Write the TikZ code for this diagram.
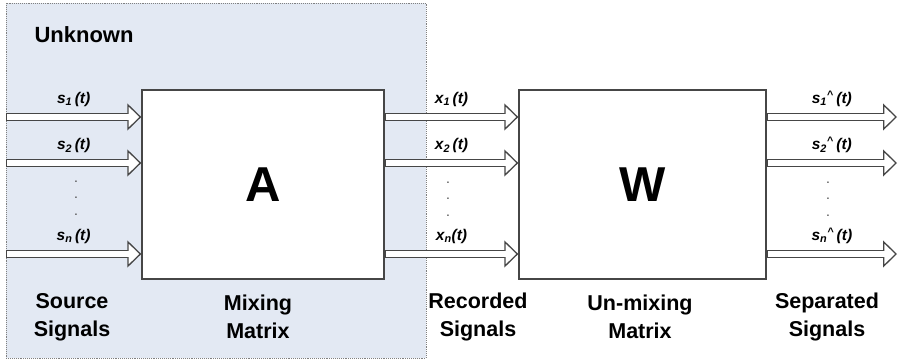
\documentclass[tikz,border=0pt]{standalone}
\usepackage{fontspec}
\setmainfont{Liberation Sans}
\usetikzlibrary{arrows.meta}
\definecolor{unknownbg}{RGB}{227,233,243}
\definecolor{edgegray}{RGB}{70,70,70}

\begin{document}
\begin{tikzpicture}[x=1pt,y=-1pt,
    matbox/.style={draw=edgegray,line width=1.4pt,fill=white,minimum width=242pt,minimum height=189pt,
      font=\fontsize{49}{49}\selectfont\bfseries},
    sigarrow/.style={draw=edgegray,line width=8pt,
      -{Triangle[length=14pt,width=27pt,line width=1.3pt,fill=white]},
      postaction={draw=white,line width=5.4pt,arrows=-,shorten <=1.3pt,shorten >=12.5pt}},
    siglabel/.style={midway,above=3pt,font=\fontsize{15.5}{17}\selectfont\bfseries\itshape},
    sigdots/.style={align=center,inner sep=0pt,text=black!70,font=\fontsize{14}{16.5}\selectfont},
    caption/.style={align=center,font=\fontsize{21.5}{28}\selectfont\bfseries}]
  \useasboundingbox (0,0) rectangle (898,362);
  \fill[unknownbg] (6,3) rectangle (426,358);
  \draw[gray,densely dotted,line width=0.9pt] (6,3) rectangle (426,358);
  \node[anchor=west,font=\fontsize{22}{22}\selectfont\bfseries] (unknown) at (31,35) {Unknown};

  \node[matbox] (A) at (263,184.5) {A};
  \node[matbox,minimum width=247pt] (W) at (642.5,184.5) {W};

  \coordinate (in1) at (6,117);
  \coordinate (in2) at (6,163);
  \coordinate (inn) at (6,254);
  \coordinate (out1) at (897,117);
  \coordinate (out2) at (897,163);
  \coordinate (outn) at (897,254);

  \draw[sigarrow] (in1) -- (A.west |- in1) node[siglabel] {s\textsubscript{1}\,(t)};
  \draw[sigarrow] (in2) -- (A.west |- in2) node[siglabel] {s\textsubscript{2}\,(t)};
  \draw[sigarrow] (inn) -- (A.west |- inn) node[siglabel] {s\textsubscript{n}\,(t)};
  \draw[sigarrow] (A.east |- in1) -- (W.west |- in1) node[siglabel] {x\textsubscript{1}\,(t)};
  \draw[sigarrow] (A.east |- in2) -- (W.west |- in2) node[siglabel] {x\textsubscript{2}\,(t)};
  \draw[sigarrow] (A.east |- inn) -- (W.west |- inn) node[siglabel] {x\textsubscript{n}(t)};
  \draw[sigarrow] (W.east |- out1) -- (out1) node[siglabel] {s\textsubscript{1}\textsuperscript{\textasciicircum}\,(t)};
  \draw[sigarrow] (W.east |- out2) -- (out2) node[siglabel] {s\textsubscript{2}\textsuperscript{\textasciicircum}\,(t)};
  \draw[sigarrow] (W.east |- outn) -- (outn) node[siglabel] {s\textsubscript{n}\textsuperscript{\textasciicircum}\,(t)};

  \node[sigdots] (sdots) at (76,198) {.\\.\\.};
  \node[sigdots] (xdots) at (448,199) {.\\.\\.};
  \node[sigdots] (odots) at (828,199) {.\\.\\.};

  \node[caption] (source) at (72,317) {Source\\Signals};
  \node[caption] (mixing) at (258,317) {Mixing\\Matrix};
  \node[caption] (recorded) at (478,317) {Recorded\\Signals};
  \node[caption] (unmixing) at (640,317) {Un-mixing\\Matrix};
  \node[caption] (separated) at (827,317) {Separated\\Signals};
\end{tikzpicture}
\end{document}
